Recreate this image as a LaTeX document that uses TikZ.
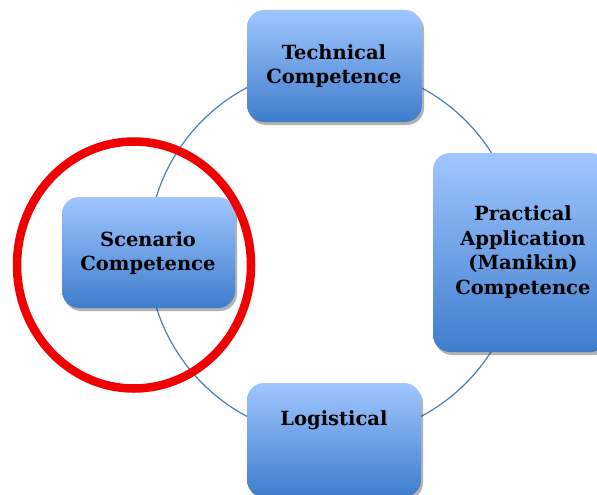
\documentclass[tikz,border=0pt]{standalone}
\usepackage{fontspec}
\setmainfont{DejaVu Serif}
\usetikzlibrary{shadows,shapes.geometric}
\definecolor{boxtop}{RGB}{160,198,255}
\definecolor{boxbot}{RGB}{62,125,204}
\definecolor{ringblue}{RGB}{74,126,187}
\definecolor{redring}{RGB}{240,0,0}
\tikzset{
  compbox/.style={draw=none, rounded corners=17pt, top color=boxtop, bottom color=boxbot,
    drop shadow={shadow xshift=2pt, shadow yshift=-3pt, opacity=0.3, fill=black}},
  boxtext/.style={align=center, font=\bfseries\fontsize{19.5}{24.5}\selectfont, text=black, inner sep=0pt},
}
\begin{document}
\begin{tikzpicture}[x=1pt,y=-1pt]
\useasboundingbox (0,0) rectangle (597,495);
% ring
\node[draw=ringblue, line width=1.2pt, circle, minimum size=372pt, inner sep=0pt] (ring) at (334,252) {};
% boxes
\path[compbox] (247,10) rectangle (422,122);
\path[compbox] (433,153) rectangle (608,352);
\path[compbox] (62,197) rectangle (235,308);
\path[compbox] (247,383) rectangle (421,497);
% texts
\node[boxtext] (tech) at (334,66) {Technical\\Competence};
\node[boxtext] (prac) at (523,252) {Practical\\Application\\(Manikin)\\Competence};
\node[boxtext] (scen) at (148,253) {Scenario\\Competence};
\node[boxtext] (logi) at (334,420) {Logistical};
% red ring
\node[draw=redring, line width=8.5pt, ellipse, minimum width=234pt, minimum height=247pt, inner sep=0pt] (focus) at (134,265) {};
\end{tikzpicture}
\end{document}
